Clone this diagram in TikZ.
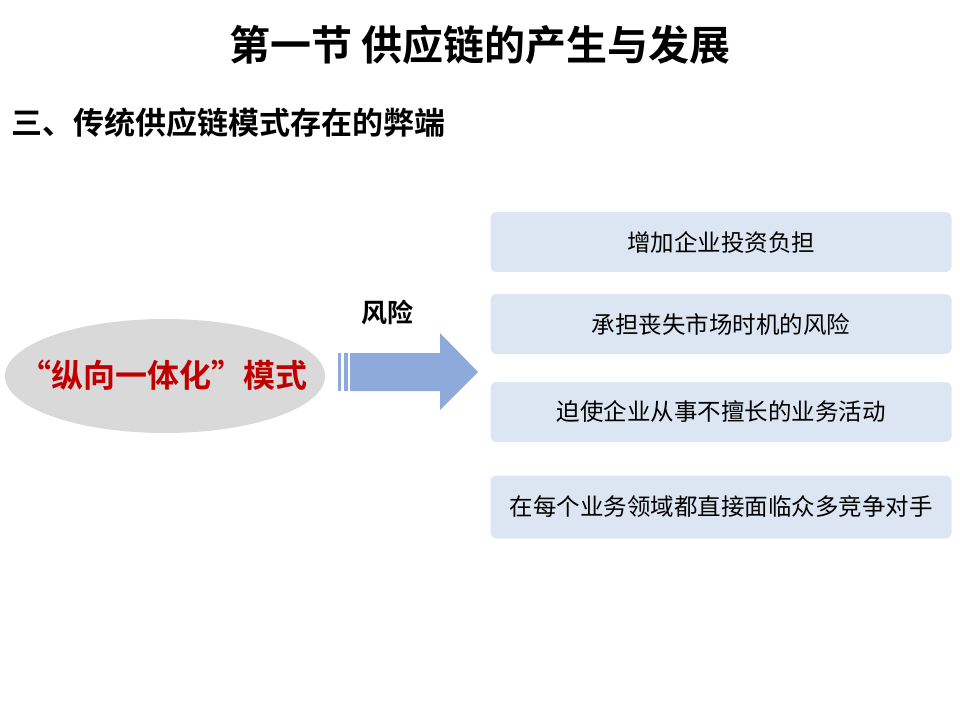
\documentclass[tikz,border=0pt]{standalone}
\usepackage{fontspec}
\usetikzlibrary{shapes.geometric}
\setmainfont{Noto Sans CJK SC}
\newfontfamily\cjkb{Noto Sans CJK SC Bold}
\definecolor{boxfill}{HTML}{DCE6F2}
\definecolor{arrowblue}{HTML}{8EAADB}
\definecolor{redtxt}{HTML}{C00000}
\begin{document}
\begin{tikzpicture}[x=1pt,y=-1pt,
  rbox/.style={draw=white,line width=1pt,fill=boxfill,rounded corners=6pt,minimum width=462pt,minimum height=61pt,font=\fontsize{23.5}{28}\selectfont}]
\useasboundingbox (0,0) rectangle (960,720);
\node[font=\cjkb\fontsize{41}{48}\selectfont] (title) at (480,45) {第一节 供应链的产生与发展};
\node[anchor=west,font=\cjkb\fontsize{31}{36}\selectfont] (sub) at (8,123) {三、传统供应链模式存在的弊端};
\fill[gray!30] (165,376) ellipse [x radius=160pt, y radius=57pt];
\node[font=\cjkb\fontsize{32}{36}\selectfont,text=redtxt] (ell) at (163,375) {“纵向一体化”模式};
\fill[arrowblue] (338,353) rectangle (341,391);
\fill[arrowblue] (344,353) rectangle (348,391);
\fill[arrowblue] (350,353) -- (440,353) -- (440,333) -- (478,372) -- (440,410) -- (440,391) -- (350,391) -- cycle;
\node[font=\cjkb\fontsize{26}{30}\selectfont] (risk) at (387,313) {风险};
\node[rbox] (b1) at (721,242) {增加企业投资负担};
\node[rbox] (b2) at (721,324) {承担丧失市场时机的风险};
\node[rbox] (b3) at (721,412) {迫使企业从事不擅长的业务活动};
\node[rbox,minimum height=64pt] (b4) at (721,507) {在每个业务领域都直接面临众多竞争对手};
\end{tikzpicture}
\end{document}
